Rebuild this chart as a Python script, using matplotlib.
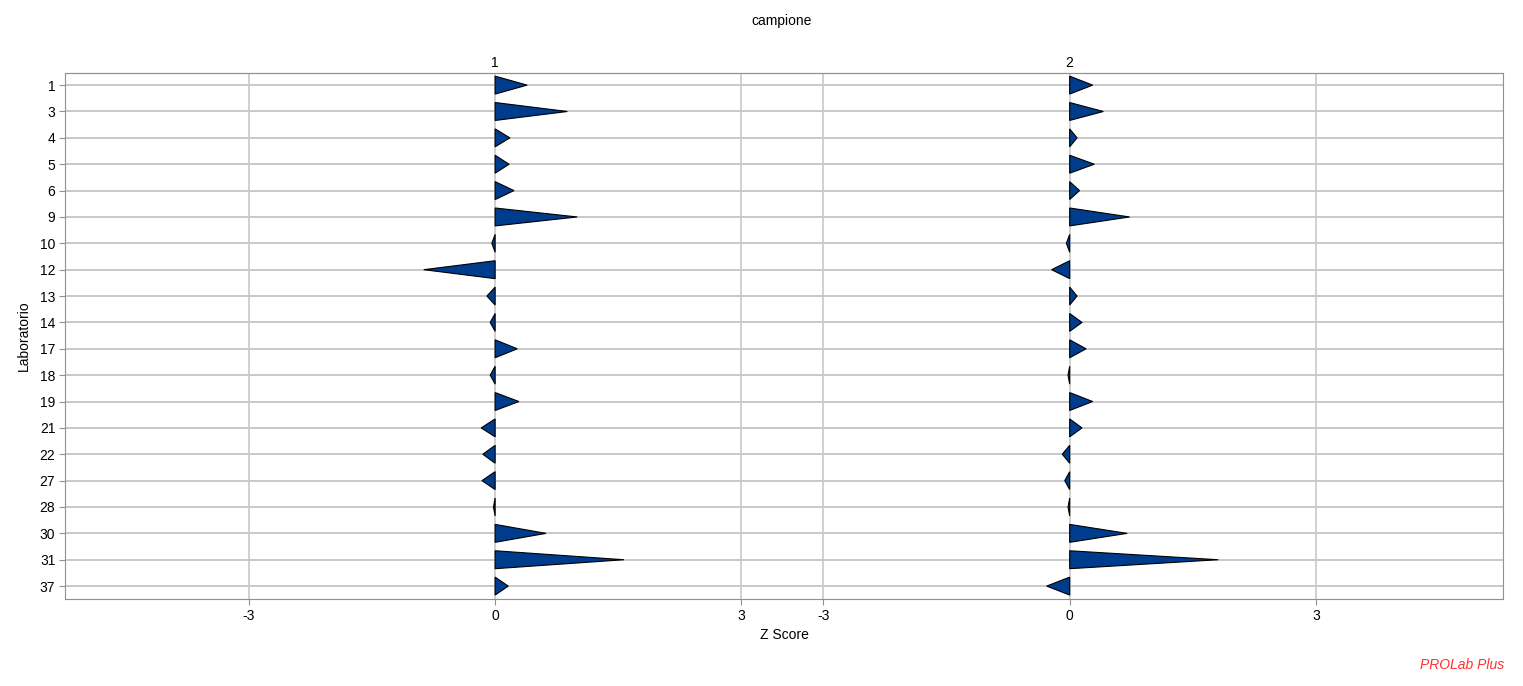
import numpy as np
import matplotlib
matplotlib.use('Agg')
import matplotlib.pyplot as plt

plt.rcParams['font.family'] = ['Liberation Sans', 'DejaVu Sans']

labs = ['1', '3', '4', '5', '6', '9', '10', '12', '13', '14',
        '17', '18', '19', '21', '22', '27', '28', '30', '31', '37']
campioni = ['1', '2']
z_camp1 = [0.39, 0.88, 0.18, 0.17, 0.23, 1.00, -0.04, -0.87, -0.10, -0.06,
           0.27, -0.06, 0.29, -0.17, -0.15, -0.16, -0.02, 0.62, 1.57, 0.16]
z_camp2 = [0.28, 0.41, 0.09, 0.30, 0.12, 0.73, -0.04, -0.22, 0.09, 0.15,
           0.20, -0.02, 0.28, 0.15, -0.09, -0.06, -0.02, 0.70, 1.81, -0.28]
panel_ticks = [-3, 0, 3]
panel_offset = 7.0
half_h = 0.34

fig = plt.figure(figsize=(15.23, 6.86), dpi=100)
ax = fig.add_axes([0.0427, 0.1268, 0.9442, 0.7668])

grid_c = '#c8c8c8'
ypos = np.arange(len(labs))
for y in ypos:
    ax.axhline(y, color=grid_c, lw=1.4, zorder=1)

xt, xl = [], []
for i, z in enumerate([z_camp1, z_camp2]):
    off = i * panel_offset
    for t in panel_ticks:
        ax.axvline(off + t, color=grid_c, lw=1.2, zorder=1)
        xt.append(off + t)
        xl.append(str(t))
    for y, v in zip(ypos, z):
        ax.fill([off, off + v, off], [y - half_h, y, y + half_h],
                facecolor='#003c8c', edgecolor='black', lw=0.8, zorder=3)

ax.set_xlim(-5.24, panel_offset + 5.28)
ax.set_ylim(len(labs) - 0.51, -0.46)
ax.set_yticks(ypos)
ax.set_yticklabels(labs)
ax.set_xticks(xt)
ax.set_xticklabels(xl)
ax.tick_params(axis='both', labelsize=10, color='#909090', length=4, pad=3)
for s in ax.spines.values():
    s.set_color('#909090')

top = ax.secondary_xaxis('top')
top.set_xticks([0, panel_offset])
top.set_xticklabels(campioni)
top.tick_params(labelsize=10, length=0, pad=2)
top.spines['top'].set_color('#909090')

ax.set_xlabel('Z Score', fontsize=10, labelpad=4)
ax.set_ylabel('Laboratorio', fontsize=10, labelpad=6)
fig.text(0.5135, 0.97, 'campione', ha='center', va='center', fontsize=10)
fig.text(0.96, 0.03, 'PROLab Plus', ha='center', va='center', fontsize=10,
         color='#ff3030', style='italic')

fig.savefig('out.png', dpi=100)
